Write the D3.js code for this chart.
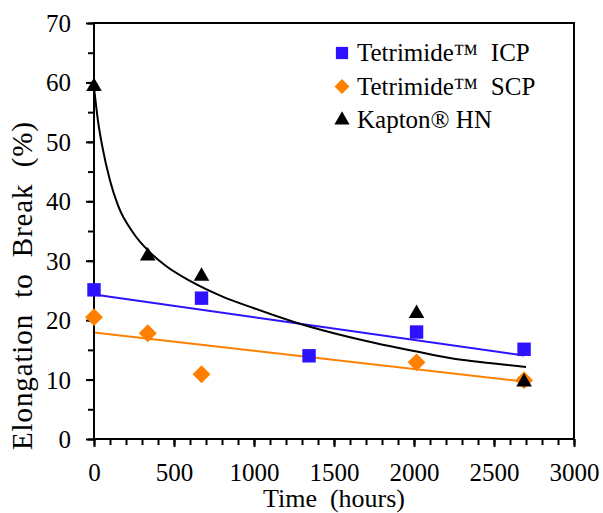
<!DOCTYPE html>
<html>
<head>
<meta charset="utf-8">
<script src="https://cdn.jsdelivr.net/npm/d3@7"></script>
<style>
  body { margin: 0; background: #fff; }
</style>
</head>
<body>
<svg id="chart" width="603" height="513"></svg>
<script>
// data
var icpHours = [0, 672, 1344, 2016, 2688];
var icpValues = [25.1, 23.7, 14.0, 18.0, 15.1];
var scpHours = [0, 336, 672, 2016, 2688];
var scpValues = [20.5, 17.8, 10.9, 12.9, 9.9];
var kaptonHours = [0, 336, 672, 2016, 2688];
var kaptonValues = [59.3, 30.8, 27.4, 21.1, 9.6];
// Kapton fitted curve
var kaptonFitHours = [0, 25, 50, 100, 150, 250, 350, 450, 600, 800, 1000, 1250, 1500, 1750, 2000, 2250, 2500, 2700];
var kaptonFitValues = [59.2, 53.5, 49.5, 43.5, 39.3, 34.5, 31.4, 29.1, 26.6, 24.0, 22.0, 19.7, 17.8, 16.2, 14.8, 13.5, 12.7, 12.1];
var xTicks = [0, 500, 1000, 1500, 2000, 2500, 3000];
var yTicks = [0, 10, 20, 30, 40, 50, 60, 70];
var legendLabels = ["Tetrimide\u2122\u00a0 ICP", "Tetrimide\u2122\u00a0 SCP", "Kapton\u00ae HN"];

var colors = { icp: "#2d12ff", scp: "#ff8000", kapton: "#000" };
var serif = "'Liberation Serif'";

var svg = d3.select("#chart");
var x = d3.scaleLinear().domain([0, 3000]).range([94, 574]);
var y = d3.scaleLinear().domain([0, 70]).range([439, 23]);

// linear trend lines (least squares from the points)
function linearFit(xs, ys) {
    var mx = d3.mean(xs), my = d3.mean(ys);
    var num = d3.sum(xs, function (v, i) { return (v - mx) * (ys[i] - my); });
    var den = d3.sum(xs, function (v) { return (v - mx) * (v - mx); });
    var slope = num / den;
    return function (v) { return my + slope * (v - mx); };
}

var line = d3.line()
    .x(function (d) { return x(d[0]); })
    .y(function (d) { return y(d[1]); });

var icpFit = linearFit(icpHours, icpValues);
var scpFit = linearFit(scpHours, scpValues);
var icpEnd = d3.max(icpHours), scpEnd = d3.max(scpHours);

svg.append("path")
    .datum([[0, icpFit(0)], [icpEnd, icpFit(icpEnd)]])
    .attr("fill", "none").attr("stroke", colors.icp).attr("stroke-width", 2)
    .attr("d", line);
svg.append("path")
    .datum([[0, scpFit(0)], [scpEnd, scpFit(scpEnd)]])
    .attr("fill", "none").attr("stroke", colors.scp).attr("stroke-width", 2)
    .attr("d", line);
svg.append("path")
    .datum(kaptonFitHours.map(function (h, i) { return [h, kaptonFitValues[i]]; }))
    .attr("fill", "none").attr("stroke", colors.kapton).attr("stroke-width", 2)
    .attr("d", line.curve(d3.curveMonotoneX));

// axes
var xAxis = d3.axisBottom(x).tickValues(d3.range(0, 3001, 100)).tickSize(6).tickFormat("");
var xMajor = d3.axisBottom(x).tickValues(xTicks).tickSize(8).tickFormat(d3.format("d"));
var yAxis = d3.axisLeft(y).tickValues(d3.range(0, 71, 5)).tickSize(6).tickFormat("");
var yMajor = d3.axisLeft(y).tickValues(yTicks).tickSize(8).tickFormat(d3.format("d"));

svg.append("g").attr("transform", "translate(0,439)").call(xAxis);
svg.append("g").attr("transform", "translate(0,439)").call(xMajor)
    .selectAll("text").attr("y", 42).attr("dy", 0);
svg.append("g").attr("transform", "translate(94,0)").call(yAxis);
svg.append("g").attr("transform", "translate(94,0)").call(yMajor)
    .selectAll("text").attr("x", -23).attr("dy", "0.34em");

svg.selectAll(".domain").remove();
svg.selectAll("g").attr("font-family", serif);
svg.selectAll(".tick line").attr("stroke", "#000").attr("stroke-width", 2);
svg.selectAll(".tick text").attr("font-family", serif).attr("font-size", 25).attr("fill", "#000");

// frame
svg.append("rect")
    .attr("x", x(0)).attr("y", y(70))
    .attr("width", x(3000) - x(0)).attr("height", y(0) - y(70))
    .attr("fill", "none").attr("stroke", "#000").attr("stroke-width", 2);

// markers
var sym = d3.symbol();
function drawMarkers(hours, values, type, size, color, rotate) {
    svg.append("g").selectAll("path")
        .data(hours)
        .join("path")
        .attr("transform", function (h, i) {
            return "translate(" + x(h) + "," + y(values[i]) + ")" + (rotate ? " rotate(45)" : "");
        })
        .attr("d", sym.type(type).size(size)())
        .attr("fill", color);
}
drawMarkers(icpHours, icpValues, d3.symbolSquare, 180, colors.icp, false);
drawMarkers(scpHours, scpValues, d3.symbolSquare, 160, colors.scp, true);
drawMarkers(kaptonHours, kaptonValues, d3.symbolTriangle, 105, colors.kapton, false);

// axis titles
svg.append("text")
    .attr("x", (x(0) + x(3000)) / 2).attr("y", 507)
    .attr("text-anchor", "middle")
    .attr("font-family", serif).attr("font-size", 26)
    .text("Time\u00a0 (hours)");
svg.append("text")
    .attr("transform", "translate(32,286) rotate(-90)")
    .attr("text-anchor", "middle")
    .attr("font-family", serif).attr("font-size", 29)
    .attr("textLength", 328).attr("lengthAdjust", "spacing")
    .text("Elongation\u00a0 to\u00a0 Break\u00a0 (%)");

// legend
var legendTypes = [d3.symbolSquare, d3.symbolSquare, d3.symbolTriangle];
var legendColors = [colors.icp, colors.scp, colors.kapton];
var legendSizes = [150, 110, 100];
var legend = svg.append("g").selectAll("g")
    .data(legendLabels)
    .join("g")
    .attr("transform", function (d, i) { return "translate(342," + (53 + i * 33.5) + ")"; });
legend.append("path")
    .attr("d", function (d, i) { return sym.type(legendTypes[i]).size(legendSizes[i])(); })
    .attr("transform", function (d, i) { return i === 1 ? "rotate(45)" : null; })
    .attr("fill", function (d, i) { return legendColors[i]; });
legend.append("text")
    .attr("x", 15).attr("y", 8)
    .attr("font-family", serif).attr("font-size", 25)
    .text(function (d) { return d; });
</script>
</body>
</html>
